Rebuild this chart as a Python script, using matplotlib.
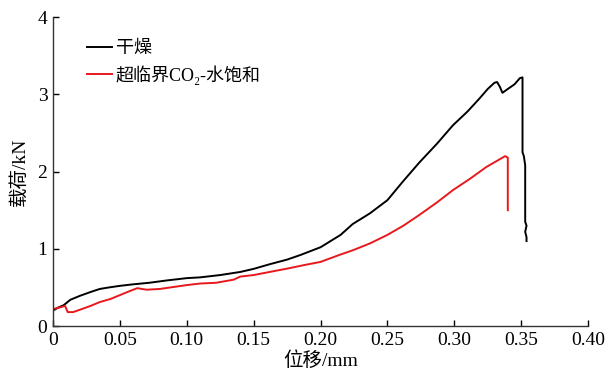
import matplotlib
matplotlib.use("Agg")
import matplotlib.pyplot as plt

plt.rcParams["font.family"] = ["Liberation Serif", "Noto Sans CJK SC"]

# Data ------------------------------

dry_x = [0.000, 0.004, 0.008, 0.013, 0.020, 0.028, 0.035, 0.042, 0.050, 0.060,
         0.072, 0.085, 0.100, 0.110, 0.125, 0.140, 0.150, 0.162, 0.175, 0.185,
         0.200, 0.215, 0.224, 0.237, 0.250, 0.262, 0.274, 0.287, 0.299, 0.310,
         0.319, 0.325, 0.330, 0.332, 0.334, 0.336, 0.340, 0.345, 0.349, 0.351,
         0.351, 0.352, 0.353, 0.353, 0.354, 0.353, 0.354, 0.354]
dry_y = [0.20, 0.24, 0.27, 0.34, 0.39, 0.44, 0.48, 0.50, 0.52, 0.54,
         0.56, 0.59, 0.62, 0.63, 0.66, 0.70, 0.74, 0.80, 0.86, 0.92,
         1.02, 1.18, 1.32, 1.46, 1.63, 1.88, 2.12, 2.36, 2.60, 2.78,
         2.95, 3.07, 3.15, 3.16, 3.10, 3.02, 3.07, 3.13, 3.21, 3.22,
         2.25, 2.20, 2.08, 1.35, 1.30, 1.22, 1.15, 1.10]

wet_x = [0.000, 0.005, 0.009, 0.011, 0.015, 0.020, 0.028, 0.035, 0.043, 0.050,
         0.057, 0.063, 0.070, 0.080, 0.088, 0.100, 0.110, 0.122, 0.135, 0.140,
         0.150, 0.162, 0.177, 0.188, 0.200, 0.214, 0.224, 0.237, 0.250, 0.262,
         0.274, 0.287, 0.299, 0.312, 0.324, 0.330, 0.338, 0.340, 0.340]
wet_y = [0.22, 0.24, 0.26, 0.18, 0.18, 0.21, 0.26, 0.31, 0.35, 0.40,
         0.45, 0.49, 0.47, 0.48, 0.50, 0.53, 0.55, 0.56, 0.60, 0.64,
         0.66, 0.70, 0.75, 0.79, 0.83, 0.92, 0.98, 1.07, 1.18, 1.30,
         1.44, 1.60, 1.76, 1.91, 2.06, 2.12, 2.20, 2.18, 1.50]

x_ticks = [0, 0.05, 0.10, 0.15, 0.20, 0.25, 0.30, 0.35, 0.40]
x_tick_labels = ["0", "0.05", "0.10", "0.15", "0.20", "0.25", "0.30", "0.35", "0.40"]
y_ticks = [0, 1, 2, 3, 4]


# Plot -------

fig = plt.figure(figsize=(6.08, 3.73), dpi=100)
ax = fig.add_axes([0.0872, 0.126, 0.88, 0.828])

ax.plot(dry_x, dry_y, color="black", lw=1.4, label="干燥")
ax.plot(wet_x, wet_y, color="#e8191c", lw=1.4, label="超临界CO\u2082-水饱和")

ax.set_xlim(0, 0.40)
ax.set_ylim(0, 4)
ax.set_xticks(x_ticks)
ax.set_xticklabels(x_tick_labels)
ax.set_yticks(y_ticks)
ax.tick_params(direction="in", length=4, width=1, labelsize=14, pad=4)

for side in ["top", "right"]:
    ax.spines[side].set_visible(False)
for side in ["left", "bottom"]:
    ax.spines[side].set_color("#333333")
    ax.spines[side].set_linewidth(1)

ax.set_xlabel("位移/mm", fontsize=14, labelpad=2)
ax.set_ylabel("载荷/kN", fontsize=14, labelpad=6)

ax.legend(loc="upper left", bbox_to_anchor=(0.05, 0.95), frameon=False,
          fontsize=13, handlelength=1.4, handletextpad=0.2, labelspacing=0.45,
          borderaxespad=0)

fig.savefig("out.png", dpi=100)
